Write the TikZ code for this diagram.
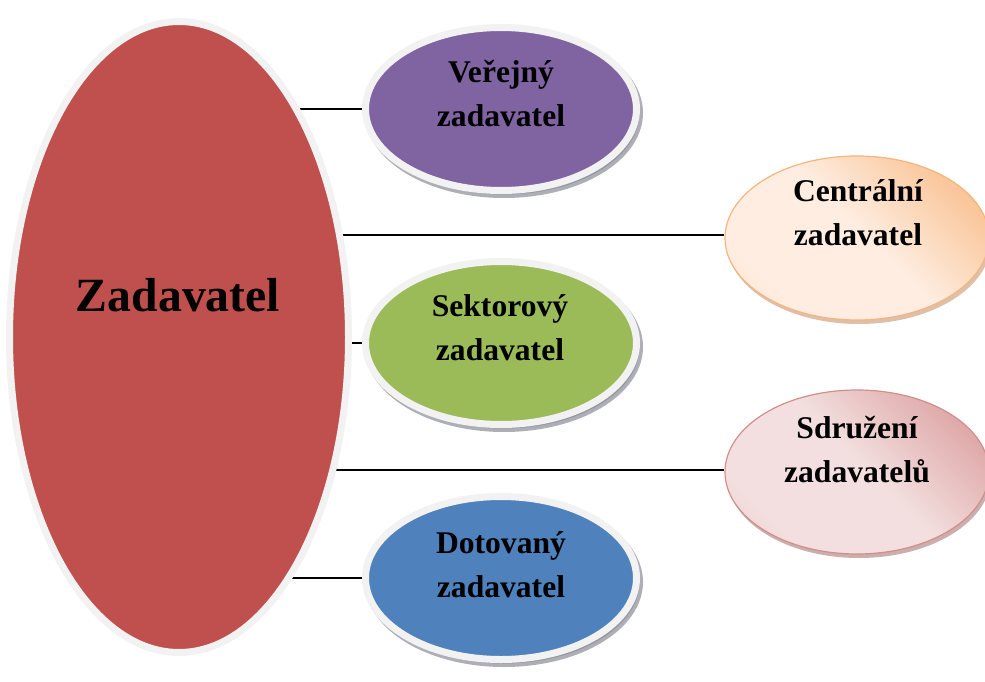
\documentclass[tikz,border=0pt]{standalone}
\usepackage{fontspec}
\setmainfont{Liberation Serif}
\usetikzlibrary{shapes.geometric,shadows}
\pgfdeclarelayer{bg}
\pgfsetlayers{bg,main}
\definecolor{redF}{HTML}{C0504D}
\definecolor{purF}{HTML}{8064A2}
\definecolor{grnF}{HTML}{9BBB59}
\definecolor{bluF}{HTML}{4F81BD}
\definecolor{ringc}{HTML}{F2F2F2}
\definecolor{shc}{HTML}{8C8C98}
\definecolor{orD}{HTML}{F9C090}
\definecolor{orL}{HTML}{FEEDE0}
\definecolor{orM}{HTML}{FBD8BC}
\definecolor{orB}{HTML}{F6B47E}
\definecolor{orS}{HTML}{C89470}
\definecolor{pkD}{HTML}{DCA3A2}
\definecolor{pkL}{HTML}{F3DFDF}
\definecolor{pkM}{HTML}{E4B7B6}
\definecolor{pkB}{HTML}{D38E8C}
\definecolor{pkS}{HTML}{A87878}
\pgfdeclareverticalshading{orsh}{100bp}{color(0bp)=(orM); color(28bp)=(orL); color(52bp)=(orL); color(78bp)=(orD); color(100bp)=(orD)}
\pgfdeclareverticalshading{pksh}{100bp}{color(0bp)=(pkM); color(28bp)=(pkL); color(52bp)=(pkL); color(78bp)=(pkD); color(100bp)=(pkD)}
\begin{document}
\begin{tikzpicture}[x=1pt,y=-1pt,
  blob/.style={ellipse, inner sep=0pt, minimum width=271pt, minimum height=163pt,
    draw=ringc, line width=7pt},
  shad/.style={drop shadow={shadow xshift=3pt, shadow yshift=-4pt, fill=shc, draw=shc,
    line width=7pt, opacity=0.7}},
  soft/.style={ellipse, inner sep=0pt, minimum width=264pt, minimum height=164pt,
    line width=1.2pt},
  lbl/.style={font=\bfseries\fontsize{31.6}{44}\selectfont, align=center, anchor=base, inner sep=0pt},
  conn/.style={line width=1.4pt, draw=black}
]
\useasboundingbox (0,0) rectangle (985,682);

% central ellipse
\node[blob, fill=redF, minimum width=339pt, minimum height=631pt] (zad) at (179,337) {};
\node[font=\bfseries\fontsize{47.7}{56}\selectfont, anchor=base, inner sep=0pt] (zadT) at (178,311) {Zadavatel};

% left column
\node[blob, shad, fill=purF] (ver) at (501,109) {};
\node[lbl] (verT) at (501,127) {Veřejný\\zadavatel};

\node[blob, shad, fill=grnF] (sek) at (501,343) {};
\node[lbl] (sekT) at (500,360) {Sektorový\\zadavatel};

\node[blob, shad, fill=bluF] (dot) at (501,578) {};
\node[lbl] (dotT) at (501,597) {Dotovaný\\zadavatel};

% right column
\node[soft, draw=orB, shading=orsh, shading angle=-45,
  drop shadow={shadow xshift=2pt, shadow yshift=-4pt, fill=orS, opacity=0.6}] (cen) at (857,238) {};
\node[lbl] (cenT) at (858,245) {Centrální\\zadavatel};

\node[soft, draw=pkB, shading=pksh, shading angle=-45,
  drop shadow={shadow xshift=2pt, shadow yshift=-4pt, fill=pkS, opacity=0.6}] (sdr) at (857,472) {};
\node[lbl] (sdrT) at (857,482) {Sdružení\\zadavatelů};

% connectors
\begin{pgfonlayer}{bg}
\draw[conn] (ver.west) -- (ver.west -| zad.center);
\draw[conn] ([yshift=3pt]cen.west) -- ([yshift=3pt]cen.west -| zad.center);
\draw[conn] (sek.west) -- (sek.west -| zad.center);
\draw[conn] ([yshift=2pt]sdr.west) -- ([yshift=2pt]sdr.west -| zad.center);
\draw[conn] (dot.west) -- (dot.west -| zad.center);
\end{pgfonlayer}
\end{tikzpicture}
\end{document}
